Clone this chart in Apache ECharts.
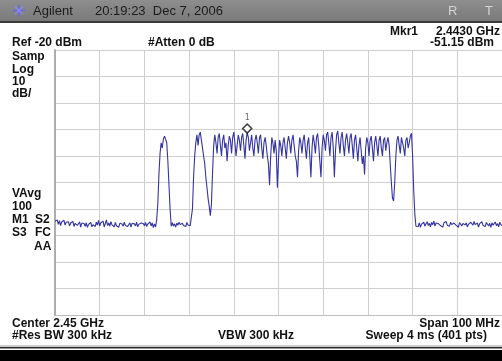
<!DOCTYPE html>
<html><head><meta charset="utf-8">
<script src="https://cdn.jsdelivr.net/npm/echarts@6/dist/echarts.min.js"></script>
<style>html,body{margin:0;padding:0;background:#fff;}#c{width:502px;height:361px;}</style>
</head><body><div id="c"></div>
<script>
// Sweep settings (from the annotation text)
var startFreqMHz = 2400;   // Center 2.45 GHz, Span 100 MHz
var stepMHz = 0.25;        // 401 pts
var refLevel = -20, bottomLevel = -120, dbPerDiv = 10;

// Trace values (dBm), in sweep order
var floorLow = [
-84.6,-85.2,-84.1,-85.8,-84.4,-86.3,-84.9,-85.5,-84.2,-86.1,
-85.0,-85.7,-84.8,-86.4,-85.3,-85.9,-84.7,-86.6,-85.4,-85.1,
-86.2,-85.6,-84.9,-86.8,-85.3,-86.0,-85.5,-86.5,-85.2,-86.9,
-85.8,-86.3,-85.1,-86.7,-85.9,-85.4,-86.6,-85.0,-86.1,-84.3,
-86.4,-85.2,-85.9,-84.6,-86.8,-85.5,-84.1,-86.2,-85.3,-86.5,
-84.8,-86.0,-85.6,-86.7,-85.1,-86.3,-85.8,-86.9,-85.4,-86.1,
-85.7,-86.5,-85.0,-86.2,-85.5,-86.6,-85.9,-85.2,-86.8,-85.4,
-86.1,-85.6,-86.4,-85.0,-86.7,-85.8,-86.2,-85.3,-86.0,-85.5,
-86.3,-85.1,-86.6,-85.7,-86.0,-84.9,-86.4,-85.2,-87.0,-85.6,
-86.8];
var burst1 = [-84.0,-78,-67,-59,-55,-57,-53.5,-52.5,-52,-55,-62,-71,-80,-86.5];
var gap = [-85.2,-86.4,-85.6,-86.8,-85.3,-86.1,-85.0,-85.9,-86.5,-85.4,-86.2,-85.7,-86.6,-85.1,-86.0,-85.5,-86.3,-85.8];
var burst2Edge = [-80,-68,-60,-55,-52,-56,-52,-51,-54,-57,-60,-63,-68,-72,-76,-79,-82.5,-78,-66,-56];
var band = [
-52,-55,-59,-53,-51.5,-56,-60,-54,-52,-57,
-55,-62,-56,-52.5,-54,-59,-53,-51,-55,-60,
-56,-52,-54,-58,-53,-51.5,-56,-61,-54,-51.15,
-53,-58,-55,-52,-57,-60,-54,-52,-55,-59,
-53,-52,-57,-61,-55,-53,-56,-60,-63,-71,
-60,-53,-55,-59,-54,-58,-72,-61,-54,-56,
-60,-55,-53,-57,-61,-55,-52.5,-55,-59,-54,
-52,-56,-60,-62,-68,-58,-53,-55,-59,-54,
-52,-57,-61,-55,-53,-60,-68,-57,-52,-55,
-59,-53,-51.5,-56,-62,-68,-57,-52,-54,-58,
-52,-51,-55,-60,-53,-51,-57,-68,-58,-52,
-50.5,-55,-59,-53,-51,-56,-60,-54,-51.5,-55,
-59,-53,-51.5,-56,-61,-54,-52,-57,-62,-56,
-53,-58,-63,-60,-67,-57,-53,-55,-60,-54,
-52.5,-57,-62,-55,-52.5,-56,-60,-54,-52.5,-57,
-60,-54,-53,-58,-55,-53,-56,-63,-70,-76,
-77,-70,-60,-54,-52.5,-56,-59,-53,-52.5,-57,
-60,-54,-53,-57,-55,-52.5,-51.4,-60,-73,-82,
-86.5];
var floorHigh = [
-85.8,-86.6,-85.2,-86.9,-85.7,-86.3,-85.0,-86.5,-85.6,-84.8,
-86.2,-85.4,-86.7,-85.1,-85.9,-84.6,-86.4,-85.3,-86.0,-85.5,
-84.9,-86.3,-85.7,-86.8,-85.2,-85.8,-84.7,-86.1,-85.4,-86.5,
-85.0,-85.9,-86.6,-85.3,-84.8,-86.2,-85.6,-86.9,-85.1,-85.7,
-86.4,-85.5,-84.9,-86.0,-85.2,-86.7,-85.8,-86.3,-85.0,-85.6,
-86.1,-84.7,-85.9,-86.5,-85.3,-86.8,-85.5,-86.0,-84.8,-86.2,
-85.7,-86.6,-85.1,-85.8,-86.4,-85.4,-86.9,-85.2,-86.1,-85.6,
-84.9,-86.3,-85.5,-86.7,-85.0,-85.9,-86.2];

var markerFreqMHz = 2443.0, markerLevel = -51.15, markerName = '1';

var traceVals = [].concat(floorLow, burst1, gap, burst2Edge, band, floorHigh);
var trace = traceVals.map(function (v, i) { return [startFreqMHz + i * stepMHz, v]; });

var FB = 'bold 12px "Liberation Sans", Arial, sans-serif';
var FN = '13px "Liberation Sans", Arial, sans-serif';
function txt(t, x, y, font, fill, align) {
  return { type: 'text', x: x, y: y, silent: true,
    style: { text: t, font: font, fill: fill || '#111', align: align || 'left', verticalAlign: 'middle',
             textAlign: align || 'left', textVerticalAlign: 'middle' } };
}

var chart = echarts.init(document.getElementById('c'), null, { renderer: 'canvas' });
chart.setOption({
  animation: false,
  backgroundColor: '#ffffff',
  grid: { left: 55, top: 50, width: 453, height: 265, show: false },
  xAxis: { type: 'value', min: 2400, max: 2500, interval: 10,
    axisLine: { show: true, onZero: false, lineStyle: { color: '#bdbdbd', width: 1 } },
    axisTick: { show: false }, axisLabel: { show: false },
    splitLine: { show: true, lineStyle: { color: '#cfcfcf', width: 1 } } },
  yAxis: { type: 'value', min: bottomLevel, max: refLevel, interval: dbPerDiv,
    axisLine: { show: true, lineStyle: { color: '#adadad', width: 2 } },
    axisTick: { show: false }, axisLabel: { show: false },
    splitLine: { show: true, lineStyle: { color: '#cfcfcf', width: 1 } } },
  series: [
    { type: 'line', data: trace, showSymbol: false, symbol: 'none',
      lineStyle: { color: '#3434a2', width: 1.1 }, z: 3 },
    { type: 'scatter', data: [[markerFreqMHz, markerLevel]], symbol: 'diamond', symbolSize: [9, 9],
      symbolOffset: [0, -4], z: 5,
      itemStyle: { color: '#ffffff', borderColor: '#111111', borderWidth: 1.6 },
      label: { show: true, position: 'top', distance: 1, formatter: markerName,
               fontSize: 8, color: '#444', fontFamily: 'DejaVu Sans' } }
  ],
  graphic: [
    { type: 'rect', shape: { x: 0, y: 0, width: 502, height: 21 }, silent: true,
      style: { fill: new echarts.graphic.LinearGradient(0, 0, 0, 1, [
        { offset: 0, color: '#8e8e8e' }, { offset: 1, color: '#7a7a7a' }]) } },
    { type: 'rect', shape: { x: 0, y: 21, width: 502, height: 2 }, silent: true, style: { fill: '#3a3a3a' } },
    { type: 'line', shape: { x1: 13, y1: 10.5, x2: 25, y2: 10.5 }, silent: true, style: { stroke: '#6a6ae0', lineWidth: 1.5 } },
    { type: 'line', shape: { x1: 19, y1: 4.5, x2: 19, y2: 16.5 }, silent: true, style: { stroke: '#6a6ae0', lineWidth: 1.5 } },
    { type: 'line', shape: { x1: 15, y1: 6.5, x2: 23, y2: 14.5 }, silent: true, style: { stroke: '#8a8af0', lineWidth: 1.2 } },
    { type: 'line', shape: { x1: 23, y1: 6.5, x2: 15, y2: 14.5 }, silent: true, style: { stroke: '#8a8af0', lineWidth: 1.2 } },
    txt('Agilent', 33, 11, FN, '#1c1c1c'),
    txt('20:19:23  Dec 7, 2006', 95, 11, FN, '#1c1c1c'),
    txt('R', 448, 11, FN, '#d4d4d4'),
    txt('T', 485, 11, FN, '#d4d4d4'),
    txt('Mkr1', 390, 31.5, FB, '#111'),
    txt('2.4430 GHz', 500, 31.5, FB, '#111', 'right'),
    txt('Ref -20 dBm', 12, 43, FB, '#111'),
    txt('#Atten 0 dB', 148, 43, FB, '#111'),
    txt('-51.15 dBm', 494, 43, FB, '#111', 'right'),
    txt('Samp', 12, 56.5, FB, '#111'),
    txt('Log', 12, 69.5, FB, '#111'),
    txt('10', 12, 82, FB, '#111'),
    txt('dB/', 12, 94, FB, '#111'),
    txt('VAvg', 12, 194, FB, '#111'),
    txt('100', 12, 207, FB, '#111'),
    txt('M1', 12, 220, FB, '#111'),
    txt('S2', 35, 220, FB, '#111'),
    txt('S3', 12, 233, FB, '#111'),
    txt('FC', 35, 233, FB, '#111'),
    txt('AA', 34, 246.5, FB, '#111'),
    txt('Center 2.45 GHz', 12, 324, FB, '#111'),
    txt('Span 100 MHz', 500, 324, FB, '#111', 'right'),
    txt('#Res BW 300 kHz', 12, 335.5, FB, '#111'),
    txt('VBW 300 kHz', 218, 335.5, FB, '#111'),
    txt('Sweep 4 ms (401 pts)', 487, 335.5, FB, '#111', 'right'),
    { type: 'rect', shape: { x: 0, y: 345.5, width: 502, height: 1 }, silent: true, style: { fill: '#9a9a9a' } },
    { type: 'rect', shape: { x: 0, y: 347, width: 502, height: 1.5 }, silent: true, style: { fill: '#2a2a2a' } },
    { type: 'rect', shape: { x: 0, y: 350, width: 502, height: 11 }, silent: true, style: { fill: '#000000' } }
  ]
});
</script>
</body></html>
